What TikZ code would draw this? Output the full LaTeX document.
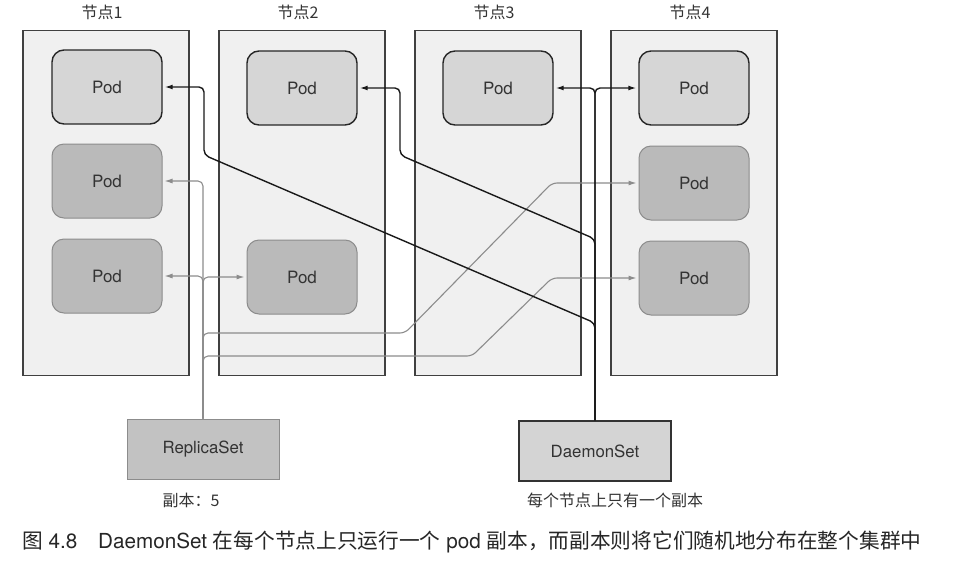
\documentclass[tikz,border=0pt]{standalone}
\usepackage{fontspec}
\setmainfont{TeX Gyre Heros}
\newfontfamily\cjk{Noto Sans CJK SC}
\usetikzlibrary{arrows.meta,positioning}
\definecolor{inkgray}{HTML}{333333}
\tikzset{
  nodebox/.style={draw=black!75, fill=black!6, line width=1.2pt, minimum width=166pt, minimum height=345pt, inner sep=0pt},
  nodelabel/.style={inner sep=0pt, text=inkgray, font=\cjk\fontsize{16}{18}\selectfont},
  podtop/.style={draw=black!85, fill=black!16, line width=1.4pt, rounded corners=12pt, minimum width=110pt, minimum height=74pt, inner sep=0pt, text=inkgray, font=\fontsize{17}{19}\selectfont},
  podrs/.style={podtop, draw=black!45, fill=black!27, line width=1pt},
  rsbox/.style={draw=black!45, fill=black!24, line width=1pt, minimum width=152pt, minimum height=60pt, text=inkgray, font=\fontsize{16.8}{19}\selectfont},
  dsbox/.style={rsbox, draw=black!80, fill=black!17, line width=1.2pt},
  sublabel/.style={inner sep=0pt, text=inkgray, font=\cjk\fontsize{16}{18}\selectfont},
  dsline/.style={black!90, line width=1.4pt, rounded corners=5pt, -{Latex[length=8pt,width=5pt]}, shorten >=2pt},
  rsline/.style={black!45, line width=1.1pt, rounded corners=5pt, -{Latex[length=8pt,width=5pt]}, shorten >=2pt}
}
\begin{document}
\begin{tikzpicture}[x=1pt,y=-1pt]
  \useasboundingbox (0,0) rectangle (977,563);
  % Nodos
  \foreach \i/\x in {1/106,2/302,3/498,4/694} {
    \node[nodebox] (n\i) at (\x,203) {};
    \node[nodelabel, above=10pt of n\i, xshift=-4pt] {节点\i};
  }
  % Pods
  \node[podtop] (p11) at (107,87) {Pod};
  \node[podrs] (p12) at (107,181) {Pod};
  \node[podrs] (p13) at (107,276) {Pod};
  \node[podtop] (p21) at (302,88) {Pod};
  \node[podrs] (p23) at (302,277) {Pod};
  \node[podtop] (p31) at (498,88) {Pod};
  \node[podtop] (p41) at (694,88) {Pod};
  \node[podrs] (p42) at (694,183) {Pod};
  \node[podrs] (p43) at (694,278) {Pod};
  % Controladores
  \node[rsbox] (rs) at (203,449) {ReplicaSet};
  \node[dsbox] (ds) at (595,451) {DaemonSet};
  \node[sublabel] (rsnote) at (191,500) {副本：5};
  \node[sublabel] (dsnote) at (615,500) {每个节点上只有一个副本};
  % Lineas del ReplicaSet
  \draw[rsline] (rs.north) |- (p12.east);
  \draw[rsline] (rs.north) |- (p13.east);
  \draw[rsline] (rs.north) |- (p23.west);
  \draw[rsline] (rs.north) -- (203,333) -- (405,333) -- (552,183) -- (p42.west);
  \draw[rsline] (rs.north) -- (203,356) -- (472,356) -- (552,278) -- (p43.west);
  % Lineas del DaemonSet
  \draw[dsline] (ds.north) |- (p31.east);
  \draw[dsline] (ds.north) |- (p41.west);
  \draw[dsline] (ds.north) -- (595,239) -- (400,155) -- (400,88) -- (p21.east);
  \draw[dsline] (ds.north) -- (595,323) -- (204,155) -- (204,87) -- (p11.east);
  % Pie de figura
  \node[anchor=west, inner sep=0pt, text=black!85, font=\fontsize{20.7}{23}\selectfont] (caption) at (22,542)
    {{\cjk 图} 4.8\hspace{1em}DaemonSet {\cjk 在每个节点上只运行一个} pod {\cjk 副本，而副本则将它们随机地分布在整个集群中}};
\end{tikzpicture}
\end{document}
